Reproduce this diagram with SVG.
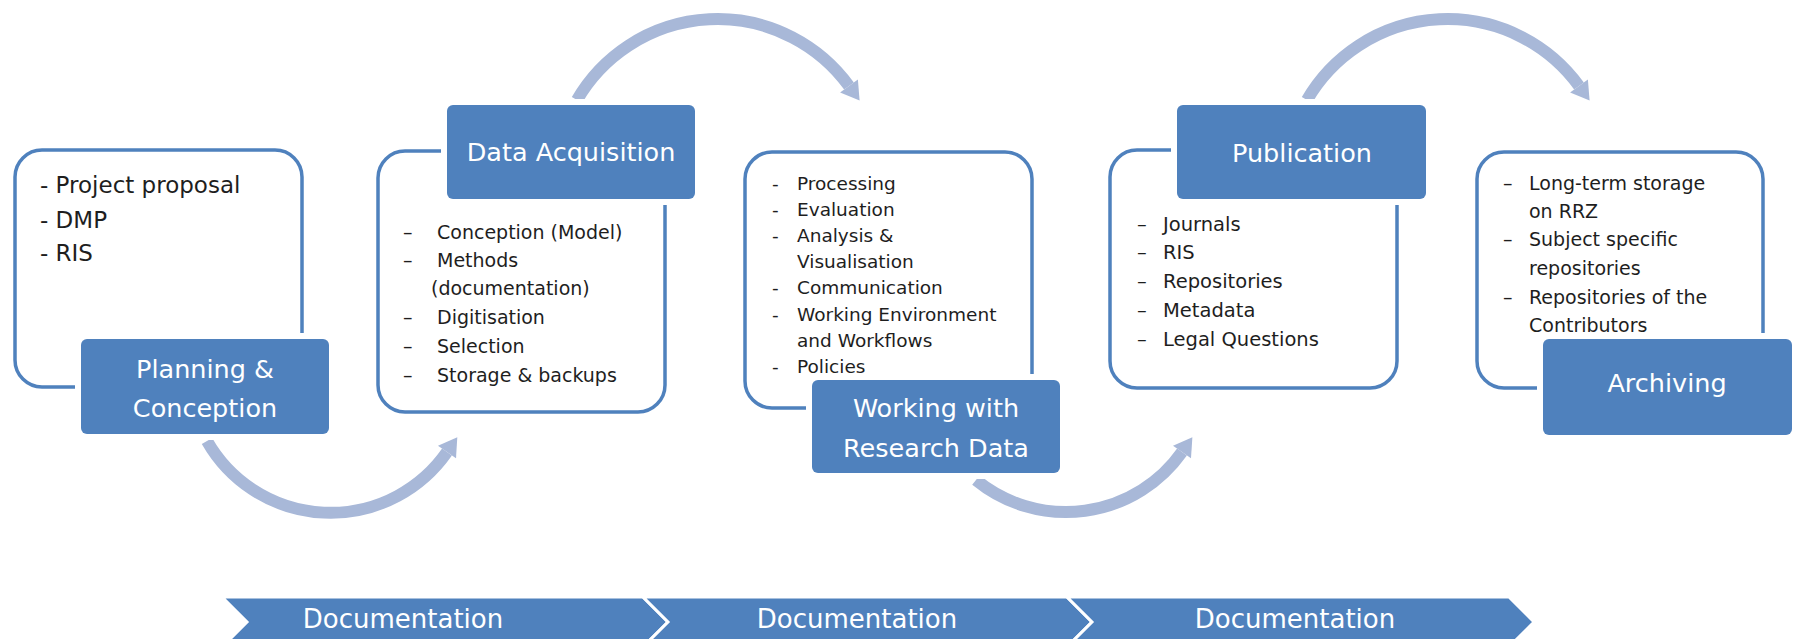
<svg xmlns="http://www.w3.org/2000/svg" width="1794" height="639" viewBox="0 0 1794 639">
  <style>
    .outline { fill: #ffffff; stroke: #4f81bd; stroke-width: 3.5; }
    .gap { fill: #ffffff; }
    .head { fill: #4f81bd; }
    .label { font-family: "DejaVu Sans", "Liberation Sans", sans-serif; font-size: 25.5px; fill: #ffffff; text-anchor: middle; }
    .item { font-family: "DejaVu Sans", "Liberation Sans", sans-serif; fill: #1e1e1e; }
    .arc { fill: none; stroke: #a8b8d8; stroke-width: 12; }
    .chev { fill: #4f81bd; stroke: #ffffff; stroke-width: 3; }
    .doc { font-family: "DejaVu Sans", "Liberation Sans", sans-serif; font-size: 26px; fill: #ffffff; text-anchor: middle; }
  </style>
  <defs>
    <marker id="ah" markerUnits="userSpaceOnUse" markerWidth="24" markerHeight="26" refX="0" refY="12" orient="auto" overflow="visible">
      <path d="M 0 1 L 18 12 L 0 23 Z" fill="#a8b8d8"/>
    </marker>
  </defs>
  <rect width="1794" height="639" fill="#ffffff"/>

  <g id="connectors">
    <path class="arc" d="M 207 441 A 142.1 142.1 0 0 0 447 452" marker-end="url(#ah)"/>
    <path class="arc" d="M 577 100 A 162.6 162.6 0 0 1 849 86" marker-end="url(#ah)"/>
    <path class="arc" d="M 976 480 A 142.1 142.1 0 0 0 1182 452" marker-end="url(#ah)"/>
    <path class="arc" d="M 1307 100 A 162.6 162.6 0 0 1 1579 86" marker-end="url(#ah)"/>
  </g>

  <g id="node-planning">
    <rect class="outline" x="15" y="150" width="287" height="237" rx="27"/>
    <text class="item" font-size="23" x="40" y="193">- Project proposal</text>
    <text class="item" font-size="23" x="40" y="228">- DMP</text>
    <text class="item" font-size="23" x="40" y="261">- RIS</text>
    <rect class="gap" x="75" y="333" width="260" height="107" rx="8"/>
    <rect class="head" x="81" y="339" width="248" height="95" rx="6"/>
    <text class="label" x="205" y="378">Planning &amp;</text>
    <text class="label" x="205" y="417">Conception</text>
  </g>

  <g id="node-acquisition">
    <rect class="outline" x="378" y="151" width="287" height="261" rx="27"/>
    <g class="item" font-size="19">
      <text x="403" y="239">–</text><text x="437" y="239">Conception (Model)</text>
      <text x="403" y="267">–</text><text x="437" y="267">Methods</text>
      <text x="431" y="295">(documentation)</text>
      <text x="403" y="324">–</text><text x="437" y="324">Digitisation</text>
      <text x="403" y="353">–</text><text x="437" y="353">Selection</text>
      <text x="403" y="382">–</text><text x="437" y="382">Storage &amp; backups</text>
    </g>
    <rect class="gap" x="441" y="99" width="260" height="106" rx="8"/>
    <rect class="head" x="447" y="105" width="248" height="94" rx="6"/>
    <text class="label" x="571" y="161">Data Acquisition</text>
  </g>

  <g id="node-working">
    <rect class="outline" x="745" y="152" width="287" height="256" rx="27"/>
    <g class="item" font-size="18.5">
      <text x="772" y="190">-</text><text x="797" y="190">Processing</text>
      <text x="772" y="216">-</text><text x="797" y="216">Evaluation</text>
      <text x="772" y="242">-</text><text x="797" y="242">Analysis &amp;</text>
      <text x="797" y="268">Visualisation</text>
      <text x="772" y="294">-</text><text x="797" y="294">Communication</text>
      <text x="772" y="321">-</text><text x="797" y="321">Working Environment</text>
      <text x="797" y="347">and Workflows</text>
      <text x="772" y="373">-</text><text x="797" y="373">Policies</text>
    </g>
    <rect class="gap" x="806" y="374" width="260" height="105" rx="8"/>
    <rect class="head" x="812" y="380" width="248" height="93" rx="6"/>
    <text class="label" x="936" y="417">Working with</text>
    <text class="label" x="936" y="457">Research Data</text>
  </g>

  <g id="node-publication">
    <rect class="outline" x="1110" y="150" width="287" height="238" rx="27"/>
    <g class="item" font-size="19.5">
      <text x="1137" y="231">–</text><text x="1163" y="231">Journals</text>
      <text x="1137" y="259">–</text><text x="1163" y="259">RIS</text>
      <text x="1137" y="288">–</text><text x="1163" y="288">Repositories</text>
      <text x="1137" y="317">–</text><text x="1163" y="317">Metadata</text>
      <text x="1137" y="346">–</text><text x="1163" y="346">Legal Questions</text>
    </g>
    <rect class="gap" x="1171" y="99" width="261" height="106" rx="8"/>
    <rect class="head" x="1177" y="105" width="249" height="94" rx="6"/>
    <text class="label" x="1302" y="162">Publication</text>
  </g>

  <g id="node-archiving">
    <rect class="outline" x="1477" y="152" width="286" height="236" rx="27"/>
    <g class="item" font-size="19">
      <text x="1503" y="190">–</text><text x="1529" y="190">Long-term storage</text>
      <text x="1529" y="218">on RRZ</text>
      <text x="1503" y="246">–</text><text x="1529" y="246">Subject specific</text>
      <text x="1529" y="275">repositories</text>
      <text x="1503" y="304">–</text><text x="1529" y="304">Repositories of the</text>
      <text x="1529" y="332">Contributors</text>
    </g>
    <rect class="gap" x="1537" y="333" width="261" height="108" rx="8"/>
    <rect class="head" x="1543" y="339" width="249" height="96" rx="6"/>
    <text class="label" x="1667" y="392">Archiving</text>
  </g>

  <g id="documentation-band">
    <polygon class="chev" points="222,597 643,597 668,622 643,647 222,647 247,622"/>
    <polygon class="chev" points="643,597 1067,597 1092,622 1067,647 643,647 668,622"/>
    <polygon class="chev" points="1067,597 1509,597 1534,622 1509,647 1067,647 1092,622"/>
    <text class="doc" x="403" y="628">Documentation</text>
    <text class="doc" x="857" y="628">Documentation</text>
    <text class="doc" x="1295" y="628">Documentation</text>
  </g>
</svg>
